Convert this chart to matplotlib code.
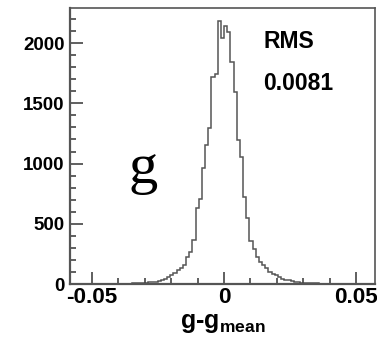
import numpy as np
import matplotlib
matplotlib.use("Agg")
import matplotlib.pyplot as plt
from matplotlib.ticker import MultipleLocator

# residual histogram, 100 bins of width 0.0012 from -0.06 to 0.06
bin_lo, bin_hi, n_bins = -0.06, 0.06, 100
counts_neg = [0, 0, 0, 0, 0, 0, 0, 0, 0, 0,
              0, 1, 0, 1, 1, 1, 2, 2, 3, 3,
              4, 5, 7, 8, 10, 12, 15, 17, 21, 25,
              33, 41, 58, 75, 91, 116, 133, 158, 224, 265,
              365, 630, 705, 963, 1153, 1295, 1720, 1740, 2185, 2040]
counts_pos = [2141, 2094, 1845, 1593, 1195, 1054, 722, 548, 357, 290,
              227, 185, 158, 130, 102, 83, 75, 61, 41, 37,
              33, 25, 21, 17, 12, 11, 8, 8, 6, 5,
              4, 3, 3, 2, 2, 1, 1, 0, 1, 0,
              0, 0, 0, 0, 0, 0, 0, 0, 0, 0]
rms_text = "0.0081"

counts = np.array(counts_neg + counts_pos)
edges = np.linspace(bin_lo, bin_hi, n_bins + 1)

plt.rcParams['font.family'] = ['Liberation Sans', 'DejaVu Sans']
plt.rcParams['font.weight'] = 'bold'
plt.rcParams['mathtext.fontset'] = 'custom'
plt.rcParams['mathtext.rm'] = 'Liberation Sans:bold'
plt.rcParams['mathtext.it'] = 'Liberation Sans:bold'
plt.rcParams['mathtext.bf'] = 'Liberation Sans:bold'

fig = plt.figure(figsize=(3.77, 3.37), dpi=100)
ax = fig.add_axes([0.186, 0.157, 0.809, 0.819])

ax.stairs(counts, edges, color='#555555', linewidth=1.1)

ax.set_xlim(-0.0583, 0.0572)
ax.set_ylim(0, 2290)

ax.xaxis.set_major_locator(MultipleLocator(0.05))
ax.xaxis.set_minor_locator(MultipleLocator(0.01))
ax.yaxis.set_major_locator(MultipleLocator(500))
ax.yaxis.set_minor_locator(MultipleLocator(100))
ax.xaxis.set_major_formatter(plt.FuncFormatter(lambda v, p: '0' if abs(v) < 1e-9 else f'{v:g}'))

ax.tick_params(axis='both', which='both', direction='in', top=False, right=False,
               color='#444444', width=1.2)
ax.tick_params(axis='both', which='major', length=9)
ax.tick_params(axis='both', which='minor', length=4)
ax.tick_params(axis='x', which='major', labelsize=16.2, pad=2)
ax.tick_params(axis='y', which='major', labelsize=13.5, pad=4)

for side, sp in ax.spines.items():
    sp.set_color('#555555')
    sp.set_linewidth(1.6 if side in ('left', 'bottom') else 1.2)

ax.set_xlabel(r'g-g$_{\mathrm{mean}}$', fontsize=18, fontweight='bold', labelpad=2)

ax.text(0.633, 0.92, 'RMS', transform=ax.transAxes, fontsize=16.5,
        fontweight='bold', va='top', ha='left')
ax.text(0.633, 0.768, rms_text, transform=ax.transAxes, fontsize=16.5,
        fontweight='bold', va='top', ha='left')
ax.text(0.19, 0.366, 'g', transform=ax.transAxes, fontsize=42,
        family='Liberation Serif', fontweight='normal', va='baseline', ha='left')

fig.savefig('out.png', dpi=100)
